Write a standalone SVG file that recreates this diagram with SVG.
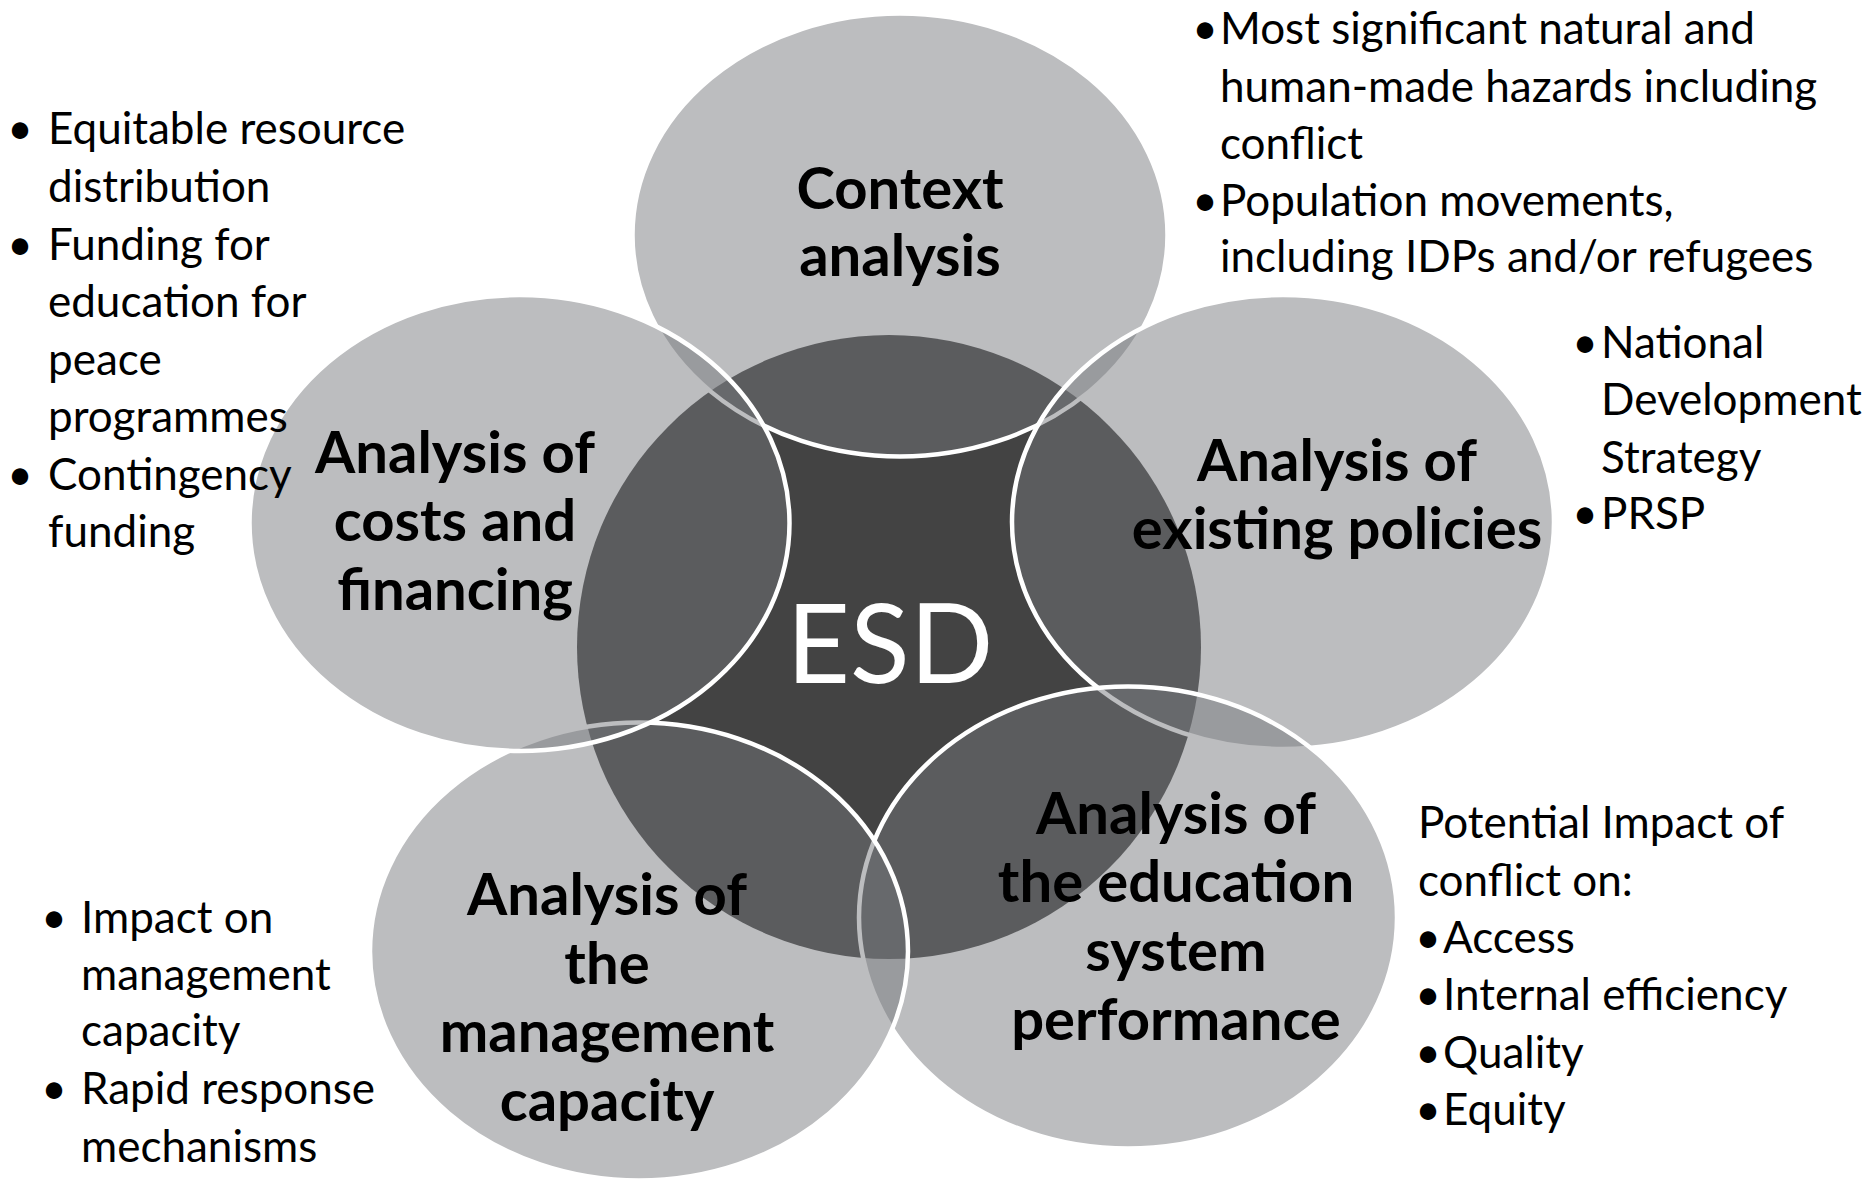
<svg xmlns="http://www.w3.org/2000/svg" width="1872" height="1182" viewBox="0 0 1872 1182">
<style>
.core{fill:#434343}
.pet{fill:#75777b;fill-opacity:.485;stroke:#fff;stroke-width:4.5}
.lbl{font-family:Lato,"Open Sans",sans-serif;font-weight:700;font-size:58px;fill:#000;text-anchor:middle}
.esd{font-family:Lato,"Open Sans",sans-serif;font-size:110px;fill:#fff;text-anchor:middle}
.note{font-family:Lato,"Open Sans",sans-serif;font-size:44px;fill:#000}
.bul{text-anchor:middle}
</style>
<rect width="1872" height="1182" fill="#fff"/>
<g id="esd">
<circle class="core" cx="889" cy="647" r="312"/>
<text class="esd" x="890" y="683">ESD</text>
</g>
<g id="context">
<ellipse class="pet" cx="900" cy="235" rx="267.5" ry="221.5"/>
<text class="lbl" x="900" y="209">Context</text>
<text class="lbl" x="900" y="276">analysis</text>
</g>
<g id="policies">
<ellipse class="pet" cx="1283" cy="522" rx="271" ry="227"/>
<text class="lbl" x="1337" y="481">Analysis of</text>
<text class="lbl" x="1337" y="549">existing policies</text>
</g>
<g id="performance">
<ellipse class="pet" cx="1128" cy="917.5" rx="269" ry="231"/>
<text class="lbl" x="1176" y="834">Analysis of</text>
<text class="lbl" x="1176" y="902">the education</text>
<text class="lbl" x="1176" y="971">system</text>
<text class="lbl" x="1176" y="1040">performance</text>
</g>
<g id="management">
<ellipse class="pet" cx="639" cy="951.5" rx="269" ry="229"/>
<text class="lbl" x="607" y="915">Analysis of</text>
<text class="lbl" x="607" y="984">the</text>
<text class="lbl" x="607" y="1052">management</text>
<text class="lbl" x="607" y="1121">capacity</text>
</g>
<g id="costs">
<ellipse class="pet" cx="519.5" cy="523" rx="270" ry="228"/>
<text class="lbl" x="455" y="473">Analysis of</text>
<text class="lbl" x="455" y="541">costs and</text>
<text class="lbl" x="455" y="610">financing</text>
</g>
<g id="notes-costs" class="note">
<text class="bul" x="20" y="144">•</text>
<text x="48" y="144">Equitable resource</text>
<text x="48" y="202">distribution</text>
<text class="bul" x="20" y="260">•</text>
<text x="48" y="260">Funding for</text>
<text x="48" y="317">education for</text>
<text x="48" y="375">peace</text>
<text x="48" y="432">programmes</text>
<text class="bul" x="20" y="490">•</text>
<text x="48" y="490">Contingency</text>
<text x="48" y="547">funding</text>
</g>
<g id="notes-context" class="note">
<text class="bul" x="1205" y="44">•</text>
<text x="1220" y="44">Most significant natural and</text>
<text x="1220" y="102">human-made hazards including</text>
<text x="1220" y="159">conflict</text>
<text class="bul" x="1205" y="216">•</text>
<text x="1220" y="216">Population movements,</text>
<text x="1220" y="272">including IDPs and/or refugees</text>
</g>
<g id="notes-policies" class="note">
<text class="bul" x="1585" y="358">•</text>
<text x="1601" y="358">National</text>
<text x="1601" y="415">Development</text>
<text x="1601" y="473">Strategy</text>
<text class="bul" x="1585" y="529">•</text>
<text x="1601" y="529">PRSP</text>
</g>
<g id="notes-management" class="note">
<text class="bul" x="54" y="933">•</text>
<text x="81" y="933">Impact on</text>
<text x="81" y="990">management</text>
<text x="81" y="1046">capacity</text>
<text class="bul" x="54" y="1104">•</text>
<text x="81" y="1104">Rapid response</text>
<text x="81" y="1162">mechanisms</text>
</g>
<g id="notes-performance" class="note">
<text x="1418" y="838">Potential Impact of</text>
<text x="1418" y="896">conflict on:</text>
<text class="bul" x="1428" y="953">•</text>
<text x="1443" y="953">Access</text>
<text class="bul" x="1428" y="1010">•</text>
<text x="1443" y="1010">Internal efficiency</text>
<text class="bul" x="1428" y="1068">•</text>
<text x="1443" y="1068">Quality</text>
<text class="bul" x="1428" y="1125">•</text>
<text x="1443" y="1125">Equity</text>
</g>
</svg>
